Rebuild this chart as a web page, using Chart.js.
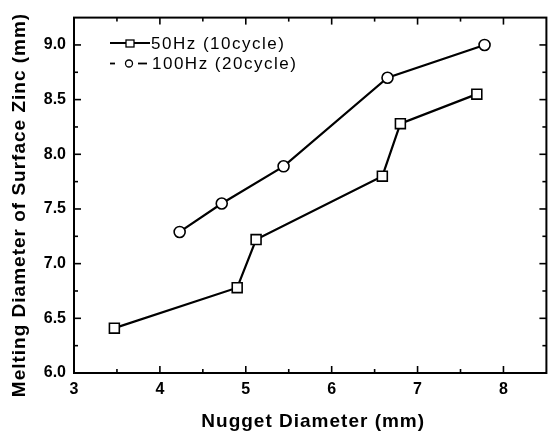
<!DOCTYPE html>
<html>
<head>
<meta charset="utf-8">
<script src="https://cdn.jsdelivr.net/npm/chart.js@4/dist/chart.umd.min.js"></script>
<style>
    html, body { margin: 0; padding: 0; background: #fff; }
    #wrap { width: 555px; height: 435px; }
</style>
</head>
<body>
<div id="wrap"><canvas id="chart"></canvas></div>
<script>
// Melting diameter vs nugget diameter

// Series values
const x50Hz = [3.47, 4.90, 5.12, 6.59, 6.80, 7.69];
const y50Hz = [6.41, 6.78, 7.22, 7.80, 8.28, 8.55];
const x100Hz = [4.23, 4.72, 5.44, 6.65, 7.78];
const y100Hz = [7.29, 7.55, 7.89, 8.70, 9.00];

// Labels
const seriesNames = ['50Hz (10cycle)', '100Hz (20cycle)'];
const xTitle = 'Nugget Diameter (mm)';
const yTitle = 'Melting Diameter of Surface Zinc (mm)';

// Axis ranges and tick steps
const xRange = [3, 8.5];
const yRange = [6, 9.25];
const xStep = 1;
const yStep = 0.5;

const toPoints = (xs, ys) => xs.map((x, i) => ({ x: x, y: ys[i] }));

// Frame, inward ticks (major + minor on all four sides), titles and legend
const framePlugin = {
    id: 'frame',
    afterDraw(chart) {
        const ctx = chart.ctx;
        const area = chart.chartArea;
        const xs = chart.scales.x;
        const ys = chart.scales.y;

        ctx.save();
        ctx.strokeStyle = '#000';
        ctx.lineWidth = 2;
        ctx.strokeRect(area.left, area.top, area.right - area.left, area.bottom - area.top);

        const tick = (x1, y1, x2, y2) => {
            ctx.beginPath();
            ctx.moveTo(x1, y1);
            ctx.lineTo(x2, y2);
            ctx.stroke();
        };

        const xMajor = xs.ticks.map(t => t.value);
        const xMinor = xMajor.map(v => v + xStep / 2).filter(v => v < xRange[1]);
        const yMajor = ys.ticks.map(t => t.value);
        const yMinor = yMajor.map(v => v + yStep / 2).filter(v => v < yRange[1]);

        ctx.lineWidth = 1.6;
        xMajor.forEach(v => {
            const px = xs.getPixelForValue(v);
            tick(px, area.bottom, px, area.bottom - 7);
            tick(px, area.top, px, area.top + 7);
        });
        xMinor.forEach(v => {
            const px = xs.getPixelForValue(v);
            tick(px, area.bottom, px, area.bottom - 4);
            tick(px, area.top, px, area.top + 4);
        });
        yMajor.forEach(v => {
            const py = ys.getPixelForValue(v);
            tick(area.left, py, area.left + 7, py);
            tick(area.right, py, area.right - 7, py);
        });
        yMinor.forEach(v => {
            const py = ys.getPixelForValue(v);
            tick(area.left, py, area.left + 4, py);
            tick(area.right, py, area.right - 4, py);
        });

        // Axis titles
        ctx.fillStyle = '#000';
        ctx.font = 'bold 19px "Liberation Sans", Arial, sans-serif';
        ctx.letterSpacing = '1px';
        ctx.textAlign = 'center';
        ctx.textBaseline = 'alphabetic';
        ctx.fillText(xTitle, (area.left + area.right) / 2 + 3, 427);
        ctx.save();
        ctx.translate(25, 205);
        ctx.rotate(-Math.PI / 2);
        ctx.fillText(yTitle, 0, 0);
        ctx.restore();

        // Legend
        ctx.font = '17px "Liberation Sans", Arial, sans-serif';
        ctx.letterSpacing = '1.5px';
        ctx.textAlign = 'left';
        ctx.textBaseline = 'middle';
        ctx.lineWidth = 1.8;
        tick(110, 43, 150, 43);
        ctx.fillStyle = '#fff';
        ctx.fillRect(126, 40, 8, 7);
        ctx.lineWidth = 1.3;
        ctx.strokeRect(126, 40, 8, 7);
        ctx.lineWidth = 1.8;
        tick(110, 63.5, 115, 63.5);
        tick(138, 63.5, 147, 63.5);
        ctx.beginPath();
        ctx.arc(129, 63.5, 3.5, 0, Math.PI * 2);
        ctx.fill();
        ctx.lineWidth = 1.3;
        ctx.stroke();
        ctx.fillStyle = '#000';
        ctx.fillText(seriesNames[0], 151, 44);
        ctx.fillText(seriesNames[1], 152, 64);
        ctx.restore();
    }
};

const tickFont = { family: '"Liberation Sans", Arial, sans-serif', size: 16, weight: 'bold' };

new Chart(document.getElementById('chart'), {
    type: 'line',
    data: {
        datasets: [{
            label: seriesNames[0],
            data: toPoints(x50Hz, y50Hz),
            borderColor: '#000',
            borderWidth: 2.2,
            backgroundColor: '#fff',
            pointStyle: 'rect',
            pointRadius: 7,
            pointBorderWidth: 1.6,
            pointBorderColor: '#000',
            pointBackgroundColor: '#fff',
            tension: 0
        }, {
            label: seriesNames[1],
            data: toPoints(x100Hz, y100Hz),
            borderColor: '#000',
            borderWidth: 2.2,
            backgroundColor: '#fff',
            pointStyle: 'circle',
            pointRadius: 5.5,
            pointBorderWidth: 1.6,
            pointBorderColor: '#000',
            pointBackgroundColor: '#fff',
            tension: 0
        }]
    },
    options: {
        responsive: true,
        maintainAspectRatio: false,
        animation: false,
        layout: { padding: { top: 9, right: 1, left: 0, bottom: 0 } },
        plugins: {
            legend: { display: false },
            tooltip: { enabled: false }
        },
        scales: {
            x: {
                type: 'linear',
                min: xRange[0],
                max: xRange[1],
                grid: { display: false, drawTicks: false },
                border: { display: false },
                ticks: {
                    stepSize: xStep,
                    includeBounds: false,
                    color: '#000',
                    font: tickFont,
                    padding: 7,
                    maxRotation: 0
                },
                afterFit(scale) { scale.height = 62; }
            },
            y: {
                type: 'linear',
                min: yRange[0],
                max: yRange[1],
                grid: { display: false, drawTicks: false },
                border: { display: false },
                ticks: {
                    stepSize: yStep,
                    includeBounds: false,
                    color: '#000',
                    font: tickFont,
                    padding: 8,
                    callback: value => value.toFixed(1)
                },
                afterFit(scale) { scale.width = 74; }
            }
        }
    },
    plugins: [framePlugin]
});
</script>
</body>
</html>
